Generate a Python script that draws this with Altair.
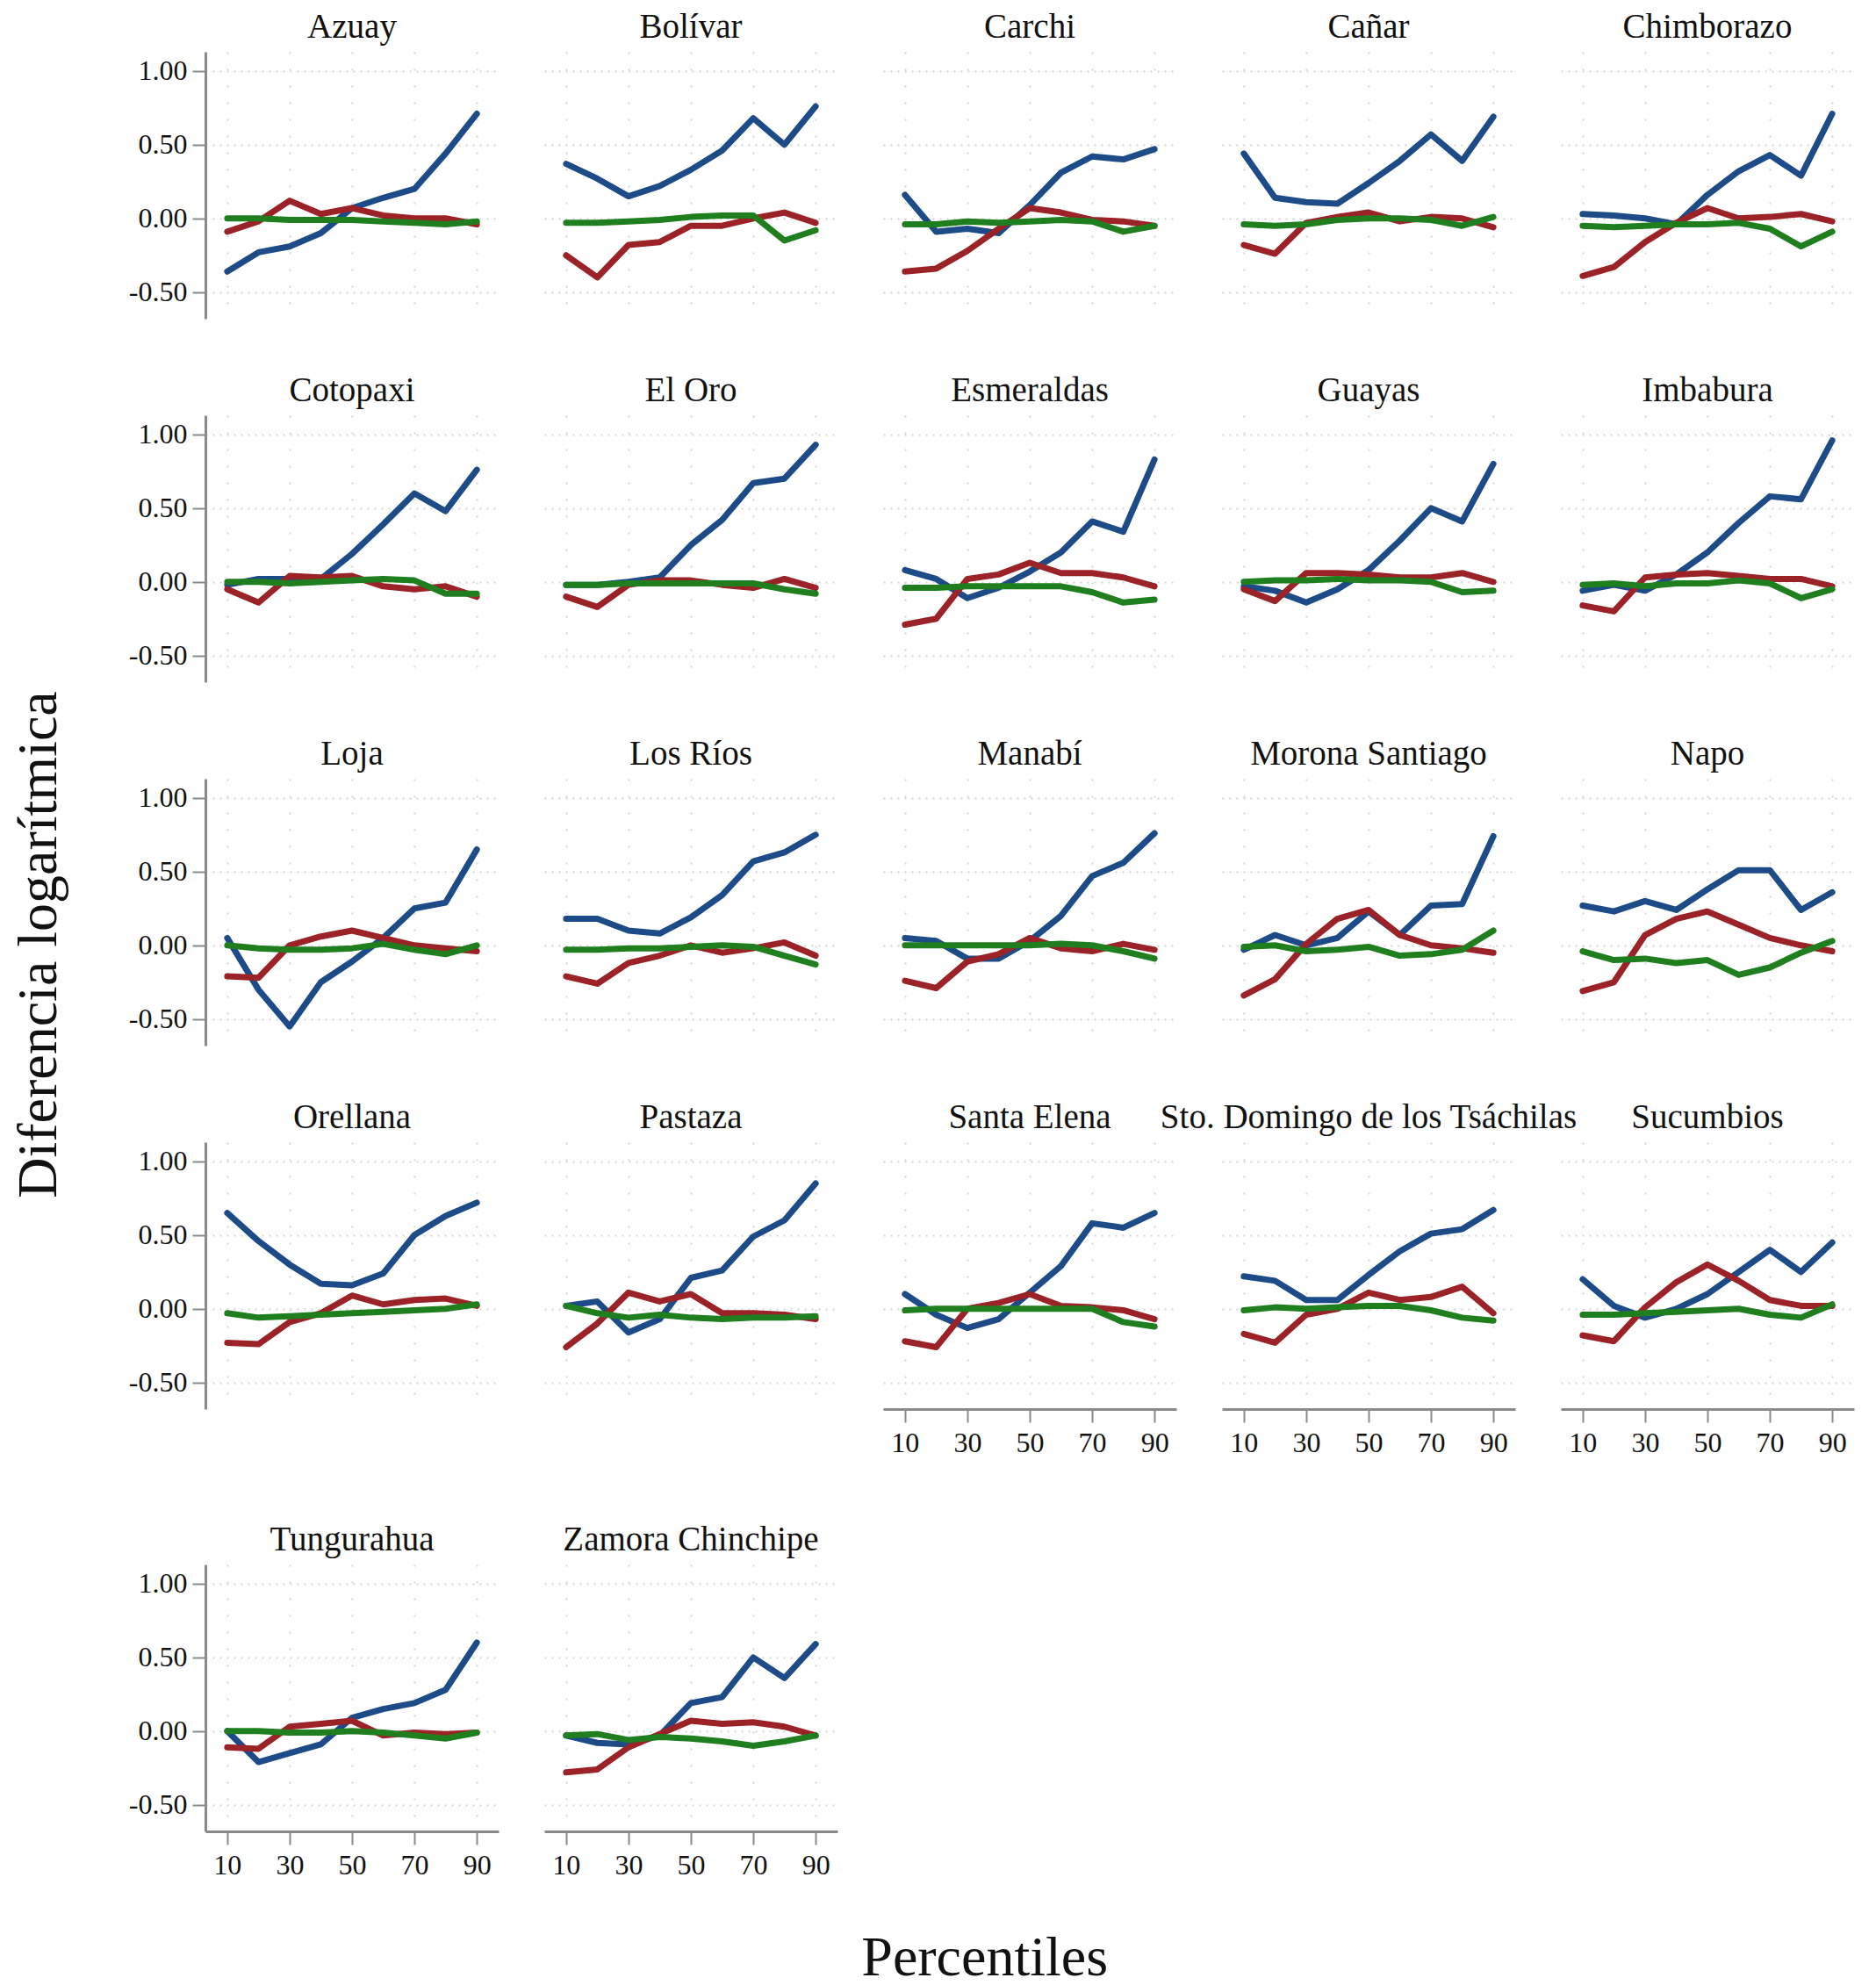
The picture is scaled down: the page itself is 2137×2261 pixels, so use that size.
import altair as alt
import pandas as pd

PERCENTILES = [10, 20, 30, 40, 50, 60, 70, 80, 90]
X_TICKS = [10, 30, 50, 70, 90]
Y_TICKS = [-0.5, 0.0, 0.5, 1.0]
SERIES_NAMES = ["serie1", "serie2", "serie3"]
COLORS = ["#1c4b87", "#9b2226", "#1f7f1f"]

PROVINCIAS = [
    "Azuay", "Bolívar", "Carchi", "Cañar", "Chimborazo",
    "Cotopaxi", "El Oro", "Esmeraldas", "Guayas", "Imbabura",
    "Loja", "Los Ríos", "Manabí", "Morona Santiago", "Napo",
    "Orellana", "Pastaza", "Santa Elena", "Sto. Domingo de los Tsáchilas", "Sucumbios",
    "Tungurahua", "Zamora Chinchipe",
]

AZUAY_1 = [-0.36, -0.23, -0.19, -0.10, 0.07, 0.14, 0.20, 0.44, 0.71]
AZUAY_2 = [-0.09, -0.02, 0.12, 0.03, 0.07, 0.02, 0.00, 0.00, -0.04]
AZUAY_3 = [0.00, 0.00, -0.01, -0.01, -0.01, -0.02, -0.03, -0.04, -0.02]

BOLIVAR_1 = [0.37, 0.27, 0.15, 0.22, 0.33, 0.46, 0.68, 0.50, 0.76]
BOLIVAR_2 = [-0.25, -0.40, -0.18, -0.16, -0.05, -0.05, 0.00, 0.04, -0.03]
BOLIVAR_3 = [-0.03, -0.03, -0.02, -0.01, 0.01, 0.02, 0.02, -0.15, -0.08]

CARCHI_1 = [0.16, -0.09, -0.07, -0.10, 0.09, 0.31, 0.42, 0.40, 0.47]
CARCHI_2 = [-0.36, -0.34, -0.22, -0.07, 0.07, 0.04, -0.01, -0.02, -0.05]
CARCHI_3 = [-0.04, -0.04, -0.02, -0.03, -0.02, -0.01, -0.02, -0.09, -0.05]

CANAR_1 = [0.44, 0.14, 0.11, 0.10, 0.24, 0.39, 0.57, 0.39, 0.69]
CANAR_2 = [-0.18, -0.24, -0.03, 0.01, 0.04, -0.02, 0.01, 0.00, -0.06]
CANAR_3 = [-0.04, -0.05, -0.04, -0.01, 0.00, 0.00, -0.01, -0.05, 0.01]

CHIMBORAZO_1 = [0.03, 0.02, 0.00, -0.04, 0.16, 0.32, 0.43, 0.29, 0.71]
CHIMBORAZO_2 = [-0.39, -0.33, -0.16, -0.03, 0.07, 0.00, 0.01, 0.03, -0.02]
CHIMBORAZO_3 = [-0.05, -0.06, -0.05, -0.04, -0.04, -0.03, -0.07, -0.19, -0.09]

COTOPAXI_1 = [-0.02, 0.02, 0.02, 0.02, 0.19, 0.39, 0.60, 0.48, 0.76]
COTOPAXI_2 = [-0.05, -0.14, 0.04, 0.03, 0.04, -0.03, -0.05, -0.03, -0.10]
COTOPAXI_3 = [0.00, 0.00, -0.01, 0.00, 0.01, 0.02, 0.01, -0.08, -0.08]

ELORO_1 = [-0.02, -0.02, 0.00, 0.03, 0.25, 0.42, 0.67, 0.70, 0.93]
ELORO_2 = [-0.10, -0.17, -0.02, 0.01, 0.01, -0.02, -0.04, 0.02, -0.04]
ELORO_3 = [-0.02, -0.02, -0.01, -0.01, -0.01, -0.01, -0.01, -0.05, -0.08]

ESMERALDAS_1 = [0.08, 0.02, -0.11, -0.04, 0.07, 0.20, 0.41, 0.34, 0.83]
ESMERALDAS_2 = [-0.29, -0.25, 0.02, 0.05, 0.13, 0.06, 0.06, 0.03, -0.03]
ESMERALDAS_3 = [-0.04, -0.04, -0.03, -0.03, -0.03, -0.03, -0.07, -0.14, -0.12]

GUAYAS_1 = [-0.03, -0.06, -0.14, -0.05, 0.08, 0.28, 0.50, 0.41, 0.80]
GUAYAS_2 = [-0.05, -0.13, 0.06, 0.06, 0.05, 0.03, 0.03, 0.06, 0.00]
GUAYAS_3 = [0.00, 0.01, 0.01, 0.02, 0.01, 0.01, 0.00, -0.07, -0.06]

IMBABURA_1 = [-0.06, -0.02, -0.06, 0.05, 0.20, 0.40, 0.58, 0.56, 0.96]
IMBABURA_2 = [-0.16, -0.20, 0.03, 0.05, 0.06, 0.04, 0.02, 0.02, -0.03]
IMBABURA_3 = [-0.02, -0.01, -0.03, -0.01, -0.01, 0.01, -0.01, -0.11, -0.05]

LOJA_1 = [0.05, -0.30, -0.55, -0.25, -0.11, 0.05, 0.25, 0.29, 0.65]
LOJA_2 = [-0.21, -0.22, 0.00, 0.06, 0.10, 0.05, 0.00, -0.02, -0.04]
LOJA_3 = [0.00, -0.02, -0.03, -0.03, -0.02, 0.01, -0.03, -0.06, 0.00]

LOSRIOS_1 = [0.18, 0.18, 0.10, 0.08, 0.19, 0.34, 0.57, 0.63, 0.75]
LOSRIOS_2 = [-0.21, -0.26, -0.12, -0.07, 0.00, -0.05, -0.02, 0.02, -0.07]
LOSRIOS_3 = [-0.03, -0.03, -0.02, -0.02, -0.01, 0.00, -0.01, -0.07, -0.13]

MANABI_1 = [0.05, 0.03, -0.09, -0.09, 0.03, 0.20, 0.47, 0.56, 0.76]
MANABI_2 = [-0.24, -0.29, -0.11, -0.06, 0.05, -0.02, -0.04, 0.01, -0.03]
MANABI_3 = [0.00, 0.00, 0.00, 0.00, 0.00, 0.01, 0.00, -0.04, -0.09]

MORONA_1 = [-0.03, 0.07, 0.00, 0.05, 0.23, 0.07, 0.27, 0.28, 0.74]
MORONA_2 = [-0.34, -0.23, 0.01, 0.18, 0.24, 0.07, 0.00, -0.02, -0.05]
MORONA_3 = [-0.01, 0.00, -0.04, -0.03, -0.01, -0.07, -0.06, -0.03, 0.10]

NAPO_1 = [0.27, 0.23, 0.30, 0.24, 0.38, 0.51, 0.51, 0.24, 0.36]
NAPO_2 = [-0.31, -0.25, 0.07, 0.18, 0.23, 0.14, 0.05, 0.00, -0.04]
NAPO_3 = [-0.04, -0.10, -0.09, -0.12, -0.10, -0.20, -0.15, -0.05, 0.03]

ORELLANA_1 = [0.65, 0.46, 0.30, 0.17, 0.16, 0.24, 0.50, 0.63, 0.72]
ORELLANA_2 = [-0.23, -0.24, -0.09, -0.03, 0.09, 0.03, 0.06, 0.07, 0.02]
ORELLANA_3 = [-0.03, -0.06, -0.05, -0.04, -0.03, -0.02, -0.01, 0.00, 0.03]

PASTAZA_1 = [0.02, 0.05, -0.16, -0.07, 0.21, 0.26, 0.49, 0.60, 0.85]
PASTAZA_2 = [-0.26, -0.10, 0.11, 0.05, 0.10, -0.03, -0.03, -0.04, -0.07]
PASTAZA_3 = [0.02, -0.03, -0.06, -0.04, -0.06, -0.07, -0.06, -0.06, -0.05]

SANTAELENA_1 = [0.10, -0.04, -0.13, -0.07, 0.11, 0.29, 0.58, 0.55, 0.65]
SANTAELENA_2 = [-0.22, -0.26, 0.00, 0.04, 0.10, 0.02, 0.01, -0.01, -0.07]
SANTAELENA_3 = [-0.01, 0.00, 0.00, 0.00, 0.00, 0.00, 0.00, -0.09, -0.12]

STODOMINGO_1 = [0.22, 0.19, 0.06, 0.06, 0.23, 0.39, 0.51, 0.54, 0.67]
STODOMINGO_2 = [-0.17, -0.23, -0.04, 0.00, 0.11, 0.06, 0.08, 0.15, -0.03]
STODOMINGO_3 = [-0.01, 0.01, 0.00, 0.01, 0.02, 0.02, -0.01, -0.06, -0.08]

SUCUMBIOS_1 = [0.20, 0.02, -0.06, 0.00, 0.10, 0.25, 0.40, 0.25, 0.45]
SUCUMBIOS_2 = [-0.18, -0.22, 0.01, 0.18, 0.30, 0.19, 0.06, 0.02, 0.02]
SUCUMBIOS_3 = [-0.04, -0.04, -0.03, -0.02, -0.01, 0.00, -0.04, -0.06, 0.03]

TUNGURAHUA_1 = [0.00, -0.21, -0.15, -0.09, 0.09, 0.15, 0.19, 0.28, 0.60]
TUNGURAHUA_2 = [-0.11, -0.12, 0.03, 0.05, 0.07, -0.03, -0.01, -0.02, -0.01]
TUNGURAHUA_3 = [0.00, 0.00, -0.01, -0.01, 0.00, -0.01, -0.03, -0.05, -0.01]

ZAMORA_1 = [-0.03, -0.08, -0.09, -0.03, 0.19, 0.23, 0.50, 0.36, 0.59]
ZAMORA_2 = [-0.28, -0.26, -0.11, -0.02, 0.07, 0.05, 0.06, 0.03, -0.03]
ZAMORA_3 = [-0.03, -0.02, -0.06, -0.04, -0.05, -0.07, -0.10, -0.07, -0.03]

SERIES = [
    (AZUAY_1, AZUAY_2, AZUAY_3),
    (BOLIVAR_1, BOLIVAR_2, BOLIVAR_3),
    (CARCHI_1, CARCHI_2, CARCHI_3),
    (CANAR_1, CANAR_2, CANAR_3),
    (CHIMBORAZO_1, CHIMBORAZO_2, CHIMBORAZO_3),
    (COTOPAXI_1, COTOPAXI_2, COTOPAXI_3),
    (ELORO_1, ELORO_2, ELORO_3),
    (ESMERALDAS_1, ESMERALDAS_2, ESMERALDAS_3),
    (GUAYAS_1, GUAYAS_2, GUAYAS_3),
    (IMBABURA_1, IMBABURA_2, IMBABURA_3),
    (LOJA_1, LOJA_2, LOJA_3),
    (LOSRIOS_1, LOSRIOS_2, LOSRIOS_3),
    (MANABI_1, MANABI_2, MANABI_3),
    (MORONA_1, MORONA_2, MORONA_3),
    (NAPO_1, NAPO_2, NAPO_3),
    (ORELLANA_1, ORELLANA_2, ORELLANA_3),
    (PASTAZA_1, PASTAZA_2, PASTAZA_3),
    (SANTAELENA_1, SANTAELENA_2, SANTAELENA_3),
    (STODOMINGO_1, STODOMINGO_2, STODOMINGO_3),
    (SUCUMBIOS_1, SUCUMBIOS_2, SUCUMBIOS_3),
    (TUNGURAHUA_1, TUNGURAHUA_2, TUNGURAHUA_3),
    (ZAMORA_1, ZAMORA_2, ZAMORA_3),
]

records = []
for prov, trio in zip(PROVINCIAS, SERIES):
    for sname, vals in zip(SERIES_NAMES, trio):
        for p, v in zip(PERCENTILES, vals):
            records.append({"provincia": prov, "serie": sname, "percentil": p, "valor": v})
df = pd.DataFrame(records)

FONT = "Liberation Serif"
AXIS_GRAY = "#8a8a8a"
GRID_GRAY = "#d6d6d6"
PANEL_W = 334
PANEL_H = 304


def make_panel(i, prov):
    r, c = divmod(i, 5)
    show_y = c == 0
    show_x = (r == 3 and c >= 2) or r == 4
    if show_x:
        xaxis = alt.Axis(values=X_TICKS, format="d", title=None, grid=True,
                         gridDash=[2, 17], gridColor=GRID_GRAY, gridWidth=2,
                         domain=True, domainColor=AXIS_GRAY, domainWidth=3,
                         ticks=True, tickColor=AXIS_GRAY, tickWidth=2, tickSize=15,
                         labels=True, labelFont=FONT, labelFontSize=32,
                         labelColor="#111111", labelPadding=8)
    else:
        xaxis = alt.Axis(values=X_TICKS, title=None, grid=True,
                         gridDash=[2, 17], gridColor=GRID_GRAY, gridWidth=2,
                         domain=False, ticks=False, labels=False)
    if show_y:
        yaxis = alt.Axis(values=Y_TICKS, title=None, grid=True,
                         gridDash=[2, 6], gridColor=GRID_GRAY, gridWidth=2,
                         domain=True, domainColor=AXIS_GRAY, domainWidth=3,
                         ticks=True, tickColor=AXIS_GRAY, tickWidth=2, tickSize=15,
                         labels=True, labelFont=FONT, labelFontSize=32,
                         labelColor="#111111", labelPadding=6,
                         labelExpr="replace(format(datum.value, '.2f'), '\u2212', '-')")
    else:
        yaxis = alt.Axis(values=Y_TICKS, title=None, grid=True,
                         gridDash=[2, 6], gridColor=GRID_GRAY, gridWidth=2,
                         domain=False, ticks=False, labels=False)

    base = alt.Chart(df).transform_filter(alt.datum.provincia == prov)
    layers = []
    for sname, col in zip(SERIES_NAMES, COLORS):
        layers.append(
            base.transform_filter(alt.datum.serie == sname)
            .mark_line(color=col, strokeWidth=7, strokeCap="round", strokeJoin="round")
            .encode(
                x=alt.X("percentil:Q", scale=alt.Scale(domain=[3, 97], nice=False, zero=False), axis=xaxis),
                y=alt.Y("valor:Q", scale=alt.Scale(domain=[-0.68, 1.13], nice=False, zero=False), axis=yaxis),
            )
        )
    return alt.layer(*layers).properties(
        width=PANEL_W,
        height=PANEL_H,
        title=alt.TitleParams(prov, font=FONT, fontSize=39, fontWeight="normal",
                              color="#111111", anchor="middle", offset=8),
    )


panels = [make_panel(i, p) for i, p in enumerate(PROVINCIAS)]
upper = alt.concat(*panels[:20], columns=5, spacing={"row": 110, "column": 52}, bounds="flush")
lower = alt.hconcat(*panels[20:], spacing=52, bounds="flush")
grid = alt.vconcat(upper, lower, spacing=76)

ytitled = alt.vconcat(grid).properties(
    title=alt.TitleParams("Diferencia logarítmica", orient="left", anchor="middle",
                          font=FONT, fontSize=64, fontWeight="normal", color="#111111",
                          offset=69)
)

chart = alt.vconcat(ytitled).properties(
    title=alt.TitleParams("Percentiles", orient="bottom", anchor="middle",
                          font=FONT, fontSize=64, fontWeight="normal", color="#111111",
                          offset=59, dx=59),
    padding={"left": 5, "top": 4, "right": 5, "bottom": 5},
    background="white",
).configure_view(stroke="transparent", strokeWidth=0)

chart.save("out.html", embed_options={"renderer": "svg", "actions": False})
